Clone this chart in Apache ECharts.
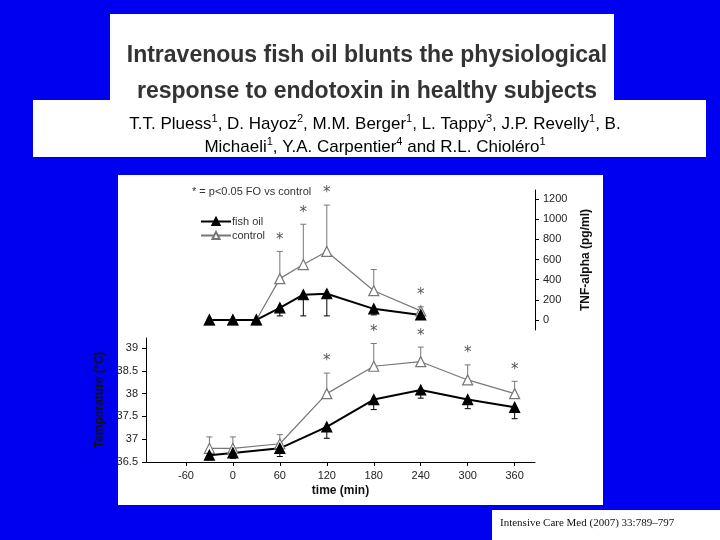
<!DOCTYPE html><html><head><meta charset="utf-8">
<script src="https://cdn.jsdelivr.net/npm/echarts@6/dist/echarts.min.js"></script>
<style>html,body{margin:0;padding:0;background:#0000f0}#c{width:720px;height:540px}</style></head><body><div id="c"></div>
<script>
const tnfTimes=[-30,0,30,60,90,120,180,240];
const tnfFish=[0,0,0,120,250,260,110,50];
const tnfFishLow=[null,null,null,40,40,40,50,null];
const tnfCtrl=[0,0,0,410,550,680,290,90];
const tnfCtrlHigh=[null,null,null,680,950,1140,500,130];
const tnfStars=[60,90,120,240];
const tempTimes=[-30,0,60,120,180,240,300,360];
const tempFish=[36.65,36.7,36.8,37.27,37.87,38.08,37.87,37.7];
const tempFishLow=[36.55,36.58,36.62,37.02,37.65,37.9,37.67,37.45];
const tempCtrl=[36.8,36.8,36.9,38.0,38.6,38.7,38.3,38.0];
const tempCtrlHigh=[37.05,37.05,37.1,38.45,39.1,39.02,38.63,38.27];
const tempStars=[120,180,240,300,360];
const xTicks=[-60,0,60,120,180,240,300,360];
const tnfTicks=[0,200,400,600,800,1000,1200];

const pair=(xs,ys)=>xs.map((x,i)=>[x,ys[i]]);
const err=(xs,a,b)=>xs.map((x,i)=>b[i]==null?null:[x,a[i],b[i]]).filter(d=>d);
function errSeries(data,xi,yi,color){
  return {type:'custom',xAxisIndex:xi,yAxisIndex:yi,data:data,silent:true,z:1,
    renderItem:(p,api)=>{const a=api.coord([api.value(0),api.value(1)]),b=api.coord([api.value(0),api.value(2)]);
      return {type:'group',children:[
        {type:'line',shape:{x1:a[0],y1:a[1],x2:b[0],y2:b[1]},style:{stroke:color,lineWidth:1}},
        {type:'line',shape:{x1:b[0]-3,y1:b[1],x2:b[0]+3,y2:b[1]},style:{stroke:color,lineWidth:1}}]};}};
}
function starSeries(xs,ys,times,xi,yi){
  return {type:'custom',xAxisIndex:xi,yAxisIndex:yi,silent:true,z:4,
    data:xs.map(x=>[x,ys[times.indexOf(x)]]),
    renderItem:(p,api)=>{const c=api.coord([api.value(0),api.value(1)]);
      return {type:'text',x:c[0],y:c[1]-4,style:{text:'*',fill:'#555',fontSize:15,fontFamily:'DejaVu Sans',align:'center',verticalAlign:'bottom'}};}};
}
const lineS=(name,data,xi,yi,c,filled)=>({name:name,type:'line',xAxisIndex:xi,yAxisIndex:yi,data:data,
  symbol:'triangle',symbolSize:10,z:3,lineStyle:{color:c,width:filled?2:1.2},
  itemStyle:{color:filled?c:'#fff',borderColor:c,borderWidth:1.2}});
const chart=echarts.init(document.getElementById('c'));
const xAx=(gi,show)=>({type:'value',gridIndex:gi,min:-111,max:386,show:show,
  axisLine:{onZero:false,lineStyle:{color:'#000'}},splitLine:{show:false},
  axisTick:{customValues:xTicks,length:4,lineStyle:{color:'#000'}},
  axisLabel:{customValues:xTicks,color:'#222',fontSize:11,fontFamily:'Liberation Sans'},
  name:'time (min)',nameLocation:'middle',nameGap:23,nameTextStyle:{fontWeight:'bold',fontSize:12,color:'#111',fontFamily:'Liberation Sans'}});
chart.setOption({
  backgroundColor:'#0000f0',animation:false,
  title:[{text:'Intravenous fish oil blunts the physiological\nresponse to endotoxin in healthy subjects',left:362,top:33,textAlign:'center',
    textStyle:{fontSize:23,lineHeight:36,fontWeight:'bold',color:'#333',fontFamily:'Liberation Sans Narrow, Liberation Sans'}},
    {text:'T.T. Pluess{s|1}, D. Hayoz{s|2}, M.M. Berger{s|1}, L. Tappy{s|3}, J.P. Revelly{s|1}, B.\nMichaeli{s|1}, Y.A. Carpentier{s|4} and R.L. Chioléro{s|1}',
    left:370,top:108,textAlign:'center',textStyle:{fontSize:17,lineHeight:23,fontWeight:'normal',color:'#000',fontFamily:'Liberation Sans',
    rich:{s:{fontSize:11,verticalAlign:'top',padding:[0,0,8,0],color:'#000'}}}}],
  graphic:[
    {type:'rect',z:-10,shape:{x:110,y:14,width:504,height:88},style:{fill:'#fff'}},
    {type:'rect',z:-9,shape:{x:33,y:100,width:673,height:57},style:{fill:'#fff'}},
    {type:'rect',z:-10,shape:{x:118,y:175,width:485,height:330},style:{fill:'#fff'}},
    {type:'rect',z:-10,shape:{x:492,y:510,width:228,height:30},style:{fill:'#fff'}},
    {type:'text',left:192,top:186,style:{text:'* = p<0.05 FO vs control',fill:'#333',fontSize:11,fontFamily:'Liberation Sans'}},
    {type:'text',left:500,top:518,style:{text:'Intensive Care Med (2007) 33:789–797',fill:'#111',fontSize:11,fontFamily:'Liberation Serif'}}
  ],
  legend:{orient:'vertical',left:195,top:211,itemGap:3,itemWidth:30,itemHeight:9,data:['fish oil','control'],
    textStyle:{fontSize:11,color:'#333',fontFamily:'Liberation Sans',padding:[0,0,0,-4]}},
  grid:[{left:146,top:190,width:389,height:140},{left:146,top:338,width:389,height:124}],
  xAxis:[xAx(0,false),xAx(1,true)],
  yAxis:[{type:'value',gridIndex:0,position:'right',min:-100,max:1290,splitLine:{show:false},
      axisLine:{show:true,onZero:false,lineStyle:{color:'#000'}},axisTick:{customValues:tnfTicks,length:4,lineStyle:{color:'#000'}},
      axisLabel:{customValues:tnfTicks,formatter:v=>String(v),color:'#222',fontSize:11,fontFamily:'Liberation Sans'},
      name:'TNF-alpha (pg/ml)',nameLocation:'middle',nameRotate:90,nameGap:45,
      nameTextStyle:{fontWeight:'bold',fontSize:12,color:'#111',fontFamily:'Liberation Sans'}},
    {type:'value',gridIndex:1,min:36.5,max:39.22,interval:0.5,splitLine:{show:false},
      axisLine:{show:true,onZero:false,lineStyle:{color:'#000'}},axisTick:{length:4,lineStyle:{color:'#000'}},
      axisLabel:{color:'#222',fontSize:11,fontFamily:'Liberation Sans',showMaxLabel:false},
      name:'Temperature (°C)',nameLocation:'middle',nameGap:38,
      nameTextStyle:{fontWeight:'bold',fontSize:12,color:'#111',fontFamily:'Liberation Sans'}}],
  series:[
    errSeries(err(tnfTimes,tnfFish,tnfFishLow),0,0,'#000'),
    errSeries(err(tnfTimes,tnfCtrl,tnfCtrlHigh),0,0,'#777'),
    lineS('control',pair(tnfTimes,tnfCtrl),0,0,'#777',false),
    lineS('fish oil',pair(tnfTimes,tnfFish),0,0,'#000',true),
    starSeries(tnfStars,tnfCtrlHigh,tnfTimes,0,0),
    errSeries(err(tempTimes,tempFish,tempFishLow),1,1,'#000'),
    errSeries(err(tempTimes,tempCtrl,tempCtrlHigh),1,1,'#777'),
    lineS('control',pair(tempTimes,tempCtrl),1,1,'#777',false),
    lineS('fish oil',pair(tempTimes,tempFish),1,1,'#000',true),
    starSeries(tempStars,tempCtrlHigh,tempTimes,1,1)
  ]
});
</script></body></html>
